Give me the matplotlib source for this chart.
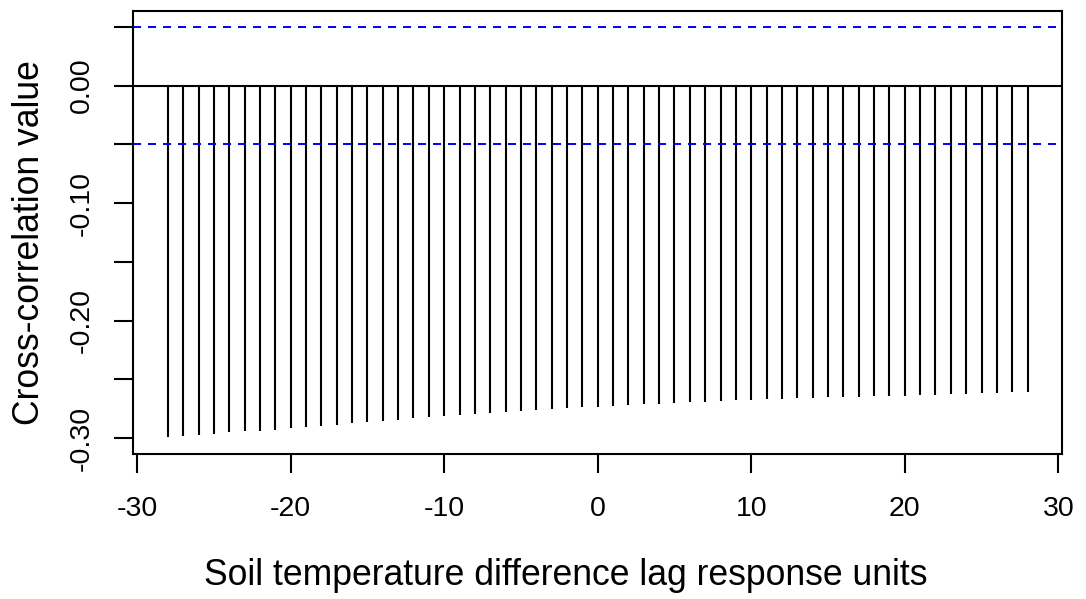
import matplotlib
matplotlib.use("Agg")
import matplotlib.pyplot as plt
import numpy as np

# Cross-correlation of soil temperature difference with the response, by lag
lags = list(range(-28, 29))
ccf_values = [
    -0.299, -0.298, -0.297, -0.296, -0.295, -0.294, -0.2935, -0.2926,
    -0.2915, -0.2904, -0.2893, -0.2884, -0.2873, -0.2862, -0.2853, -0.2842,
    -0.2831, -0.2822, -0.2814, -0.2805, -0.2797, -0.2785, -0.2777, -0.2768,
    -0.2763, -0.2754, -0.2746, -0.2737, -0.2732, -0.2723, -0.2718, -0.2712,
    -0.2706, -0.2701, -0.2695, -0.2689, -0.2681, -0.2678, -0.2675, -0.2669,
    -0.2666, -0.2661, -0.2658, -0.2653, -0.2650, -0.2647, -0.2644, -0.2641,
    -0.2638, -0.2633, -0.2630, -0.2627, -0.2621, -0.2619, -0.2613, -0.2610,
    -0.2608,
]
conf_limit = 0.0497

x_ticks = [-30, -20, -10, 0, 10, 20, 30]
x_tick_labels = ["-30", "-20", "-10", "0", "10", "20", "30"]
y_ticks = [0.05, 0.00, -0.05, -0.10, -0.15, -0.20, -0.25, -0.30]
y_tick_labels = ["", "0.00", "", "-0.10", "", "-0.20", "", "-0.30"]

x_label = "Soil temperature difference lag response units"
y_label = "Cross-correlation value"

plt.rcParams["font.family"] = ["Liberation Sans", "DejaVu Sans"]
plt.rcParams["lines.scale_dashes"] = False

fig = plt.figure(figsize=(10.86, 5.99), dpi=100)
ax = fig.add_axes([0.1227, 0.2421, 0.9776 - 0.1227, 0.9821 - 0.2421])

ax.vlines(lags, 0, ccf_values, colors="black", linewidth=1.5)
ax.axhline(0, color="black", linewidth=1.5)
for level in (conf_limit, -conf_limit):
    ax.axhline(level, color="#0000ff", linewidth=1.4, dashes=(5.8, 5.0))

ax.set_xlim(-30.25, 30.22)
ax.set_ylim(-0.3134, 0.0636)

for spine in ax.spines.values():
    spine.set_linewidth(1.5)

ax.tick_params(axis="both", length=13.5, width=1.5, color="black",
               labelsize=20.5)
ax.tick_params(axis="x", pad=17)
ax.tick_params(axis="y", pad=14)

ax.set_xticks(x_ticks)
ax.set_xticklabels(x_tick_labels)
ax.set_yticks(y_ticks)
ax.set_yticklabels(y_tick_labels, rotation=90, va="center")

ax.set_xlabel(x_label, fontsize=25.6, va="baseline", ha="center")
ax.xaxis.set_label_coords(0.5212, 0.0234, transform=fig.transFigure)

ax.set_ylabel(y_label, fontsize=25.6, rotation=90, rotation_mode="anchor",
              ha="center", va="baseline")
ax.yaxis.set_label_coords(0.0359, 0.5952, transform=fig.transFigure)

fig.savefig("out.png", dpi=100)
